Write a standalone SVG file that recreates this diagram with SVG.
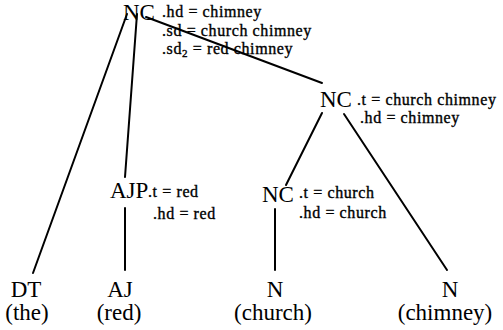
<svg xmlns="http://www.w3.org/2000/svg" width="503" height="330" viewBox="0 0 503 330">
<style>
.lbl{font-family:"Liberation Serif","Times New Roman",serif;font-size:23px;fill:#000}
.ann{font-family:"Liberation Serif","Times New Roman",serif;font-size:16px;letter-spacing:0.6px;fill:#000;stroke:#000;stroke-width:0.35}
.mid{text-anchor:middle}
.edge{stroke:#000;stroke-width:2;fill:none;stroke-linecap:round}
</style>
<rect width="503" height="330" fill="#fff"/>
<g id="connectors">
<line class="edge" x1="127" y1="14" x2="33" y2="273"/>
<line class="edge" x1="137" y1="14" x2="125" y2="177"/>
<line class="edge" x1="146" y1="17" x2="322" y2="83"/>
<line class="edge" x1="322" y1="113" x2="286" y2="185"/>
<line class="edge" x1="344" y1="114" x2="447" y2="270"/>
<line class="edge" x1="125" y1="208" x2="125" y2="270"/>
<line class="edge" x1="275" y1="209" x2="275" y2="270"/>
</g>
<g id="nc-root">
<text class="lbl" x="123" y="20">NC</text>
<text class="ann" x="162" y="17">.hd = chimney</text>
<text class="ann" x="162" y="36">.sd = church chimney</text>
<text class="ann" x="162" y="54">.sd<tspan font-size="11" dy="3">2</tspan><tspan dy="-3"> = red chimney</tspan></text>
</g>
<g id="nc-right">
<text class="lbl" x="320" y="107">NC</text>
<text class="ann" x="357" y="105">.t = church chimney</text>
<text class="ann" x="360" y="123">.hd = chimney</text>
</g>
<g id="ajp">
<text class="lbl" x="110" y="198">AJP</text>
<text class="ann" x="148" y="197">.t = red</text>
<text class="ann" x="153" y="219">.hd = red</text>
</g>
<g id="nc-church">
<text class="lbl" x="262" y="202">NC</text>
<text class="ann" x="299" y="198">.t = church</text>
<text class="ann" x="299" y="218">.hd = church</text>
</g>
<g id="dt">
<text class="lbl mid" x="26" y="297">DT</text>
<text class="lbl mid" x="27" y="320">(the)</text>
</g>
<g id="aj">
<text class="lbl mid" x="120" y="297">AJ</text>
<text class="lbl mid" x="119" y="320">(red)</text>
</g>
<g id="n-church">
<text class="lbl mid" x="275" y="297">N</text>
<text class="lbl mid" x="273" y="320">(church)</text>
</g>
<g id="n-chimney">
<text class="lbl mid" x="450" y="297">N</text>
<text class="lbl mid" x="445" y="320">(chimney)</text>
</g>
</svg>
